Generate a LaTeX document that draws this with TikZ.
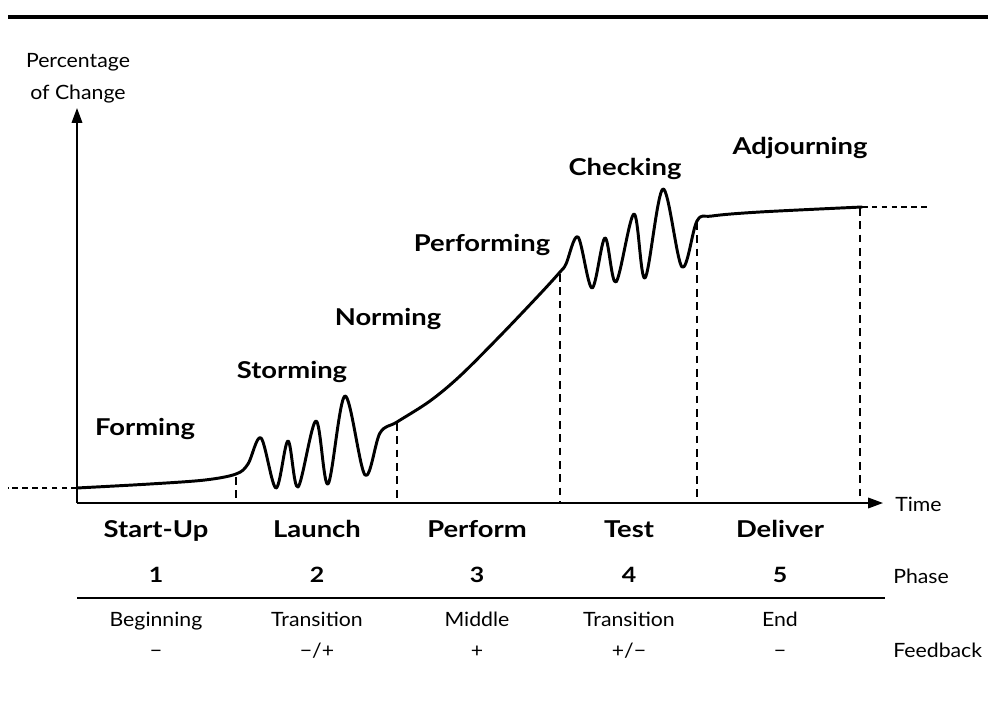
\documentclass[tikz,border=0pt]{standalone}
\usepackage{fontspec}
\setmainfont{Lato}[FakeStretch=1.08, BoldFeatures={FakeStretch=1.18}]
\usetikzlibrary{arrows.meta}

\begin{document}
\begin{tikzpicture}[x=0.025cm, y=-0.025cm,
  axis/.style={line width=1.1pt},
  tip/.style={-{Triangle[length=10.5pt,width=7.5pt]}},
  curve/.style={line width=2.1pt, line join=round, line cap=round},
  guide/.style={line width=0.85pt, dash pattern=on 5.5pt off 4pt},
  ext/.style={line width=1.8pt, dash pattern=on 4pt off 3pt},
  stagelbl/.style={anchor=base, inner sep=0pt, font=\fontsize{16.5}{19}\selectfont\bfseries},
  numlbl/.style={anchor=base, inner sep=0pt, font=\fontsize{15}{18}\selectfont\bfseries},
  txt/.style={anchor=base, inner sep=0pt, font=\fontsize{14}{16}\selectfont}
]
  \useasboundingbox (0,0) rectangle (988,702);
  % heavy rule over the chart
  \draw[line width=2.5pt] (8,17) -- (988,17);

  % axes
  \coordinate (O) at (77,503);
  \coordinate (ytop) at (77,108);
  \coordinate (xend) at (883,503);
  \draw[axis,tip] (O) -- (ytop);
  \draw[axis,tip] (O) -- (xend);
  \node[txt] (ylbl1) at (78,68) {Percentage};
  \node[txt] (ylbl2) at (78,100) {of Change};
  \node[txt, anchor=base west] (time) at (895,511) {Time};

  % change curve
  \draw[curve] plot[smooth, tension=0.55] coordinates {
    (77,488) (150,484) (205,480) (236,474) (248,464)
    (261,438) (276,488) (288,441) (298,487) (316,421) (328,484) (345,396) (365,475)
    (380,433) (397,422) (430,401) (460,376) (500,336) (540,294) (560,272) (566,264)
    (578,237) (592,288) (605,238) (616,282) (634,214) (645,278) (663,189) (682,267)
    (697,221) (712,216) (760,212) (862,207)};
  \coordinate (cstart) at (77,488);
  \coordinate (cend) at (862,207);
  \draw[ext] (cstart) -- ++(-69,0);
  \draw[ext] (cend) -- ++(66,0);

  % phase boundaries
  \foreach \x/\y [count=\i] in {236/477, 397/423, 560/274, 697/222, 860/208}{
    \coordinate (g\i) at (\x,\y);
    \draw[guide] (g\i) -- (g\i |- O);
  }

  % stage names along the curve
  \node[stagelbl] (forming) at (145,435) {Forming};
  \node[stagelbl] (storming) at (292,378) {Storming};
  \node[stagelbl] (norming) at (388,326) {Norming};
  \node[stagelbl] (performing) at (482,252) {Performing};
  \node[stagelbl] (checking) at (625,176) {Checking};
  \node[stagelbl] (adjourning) at (800,155) {Adjourning};

  % table of phases under the time axis
  \foreach \x/\stg/\pos/\fb [count=\i] in {156/Start-Up/Beginning/−, 317/Launch/Transition/{−/+},
      477/Perform/Middle/+, 629/Test/Transition/{+/−}, 780/Deliver/End/−}{
    \node[stagelbl] (st\i) at (\x,537) {\stg};
    \node[numlbl] (ph\i) at (\x,582) {\i};
    \node[txt] (pos\i) at (\x,626) {\pos};
    \node[txt] (fb\i) at (\x,657) {\fb};
  }
  \coordinate (rl) at (77,598);
  \coordinate (rr) at (885,598);
  \draw[line width=1.3pt] (rl) -- (rr);
  \node[txt, anchor=base west] (phase) at (893,583) {Phase};
  \node[txt, anchor=base west] (feedback) at (893,657) {Feedback};
\end{tikzpicture}
\end{document}
